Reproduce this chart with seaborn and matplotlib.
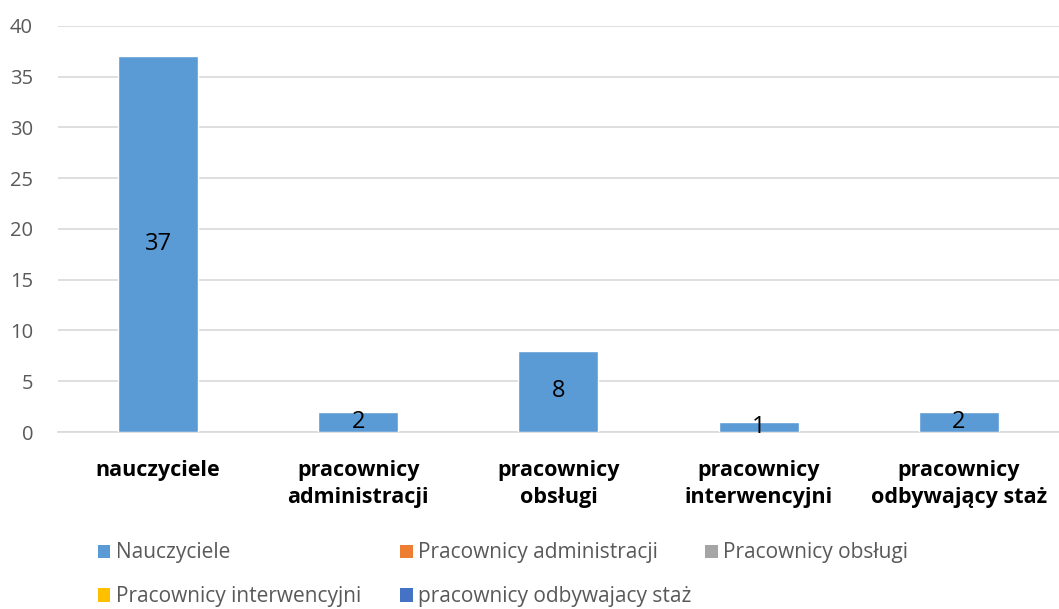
import matplotlib
matplotlib.use("Agg")
import matplotlib.pyplot as plt
from matplotlib.patches import Patch
import seaborn as sns
import pandas as pd

categories = ["nauczyciele", "pracownicy\nadministracji", "pracownicy\nobsługi",
              "pracownicy\ninterwencyjni", "pracownicy\nodbywający staż"]
values = [37, 2, 8, 1, 2]
legend_labels = ["Nauczyciele", "Pracownicy administracji", "Pracownicy obsługi",
                 "Pracownicy interwencyjni", "pracownicy odbywajacy staż"]
legend_colors = ["#5B9BD5", "#ED7D31", "#A5A5A5", "#FFC000", "#4472C4"]
y_ticks = [0, 5, 10, 15, 20, 25, 30, 35, 40]

sns.set_theme(style="white")
plt.rcParams['font.family'] = ['Open Sans', 'DejaVu Sans']

df = pd.DataFrame({"cat": categories, "val": values})

fig = plt.figure(figsize=(10.59, 6.09), dpi=100)
ax = fig.add_axes([0.0548, 0.2906, 0.945, 0.667])
sns.barplot(data=df, x="cat", y="val", color="#5B9BD5", saturation=1, width=0.4, ax=ax, zorder=3)

ax.set_ylim(0, 40)
ax.set_yticks(y_ticks)
ax.set_yticklabels([str(t) for t in y_ticks], color="#595959", fontsize=14.5)
ax.yaxis.grid(True, color="#D9D9D9", linewidth=1.2, zorder=0)
ax.set_axisbelow(True)
for s in ["top", "right", "left"]:
    ax.spines[s].set_visible(False)
ax.spines["bottom"].set_color("#D9D9D9")
ax.spines["bottom"].set_linewidth(1.2)
ax.tick_params(axis="y", length=0, pad=18)
ax.tick_params(axis="x", length=0, pad=20)
ax.set_xlabel("")
ax.set_ylabel("")
for lab in ax.get_xticklabels():
    lab.set_fontweight("bold")
    lab.set_fontsize(15.5)
    lab.set_color("black")
    lab.set_linespacing(1.4)

for i, v in enumerate(values):
    ax.text(i, v / 2, str(v), ha="center", va="center", fontsize=17, color="black", zorder=4)

# legend: 3 entries in first row, 2 in second row (row-major like the original)
legend_pos = [(0.0925, 0.092), (0.378, 0.092), (0.666, 0.092),
              (0.0925, 0.020), (0.378, 0.020)]
for (x, y), lab, col in zip(legend_pos, legend_labels, legend_colors):
    leg = fig.legend([Patch(facecolor=col, edgecolor="none")], [lab], loc="center left",
                     bbox_to_anchor=(x, y), frameon=False, fontsize=15,
                     handlelength=0.6, handleheight=0.6, handletextpad=0.25,
                     borderaxespad=0, borderpad=0)
    for t in leg.get_texts():
        t.set_color("#595959")

fig.savefig("out.png", dpi=100)
